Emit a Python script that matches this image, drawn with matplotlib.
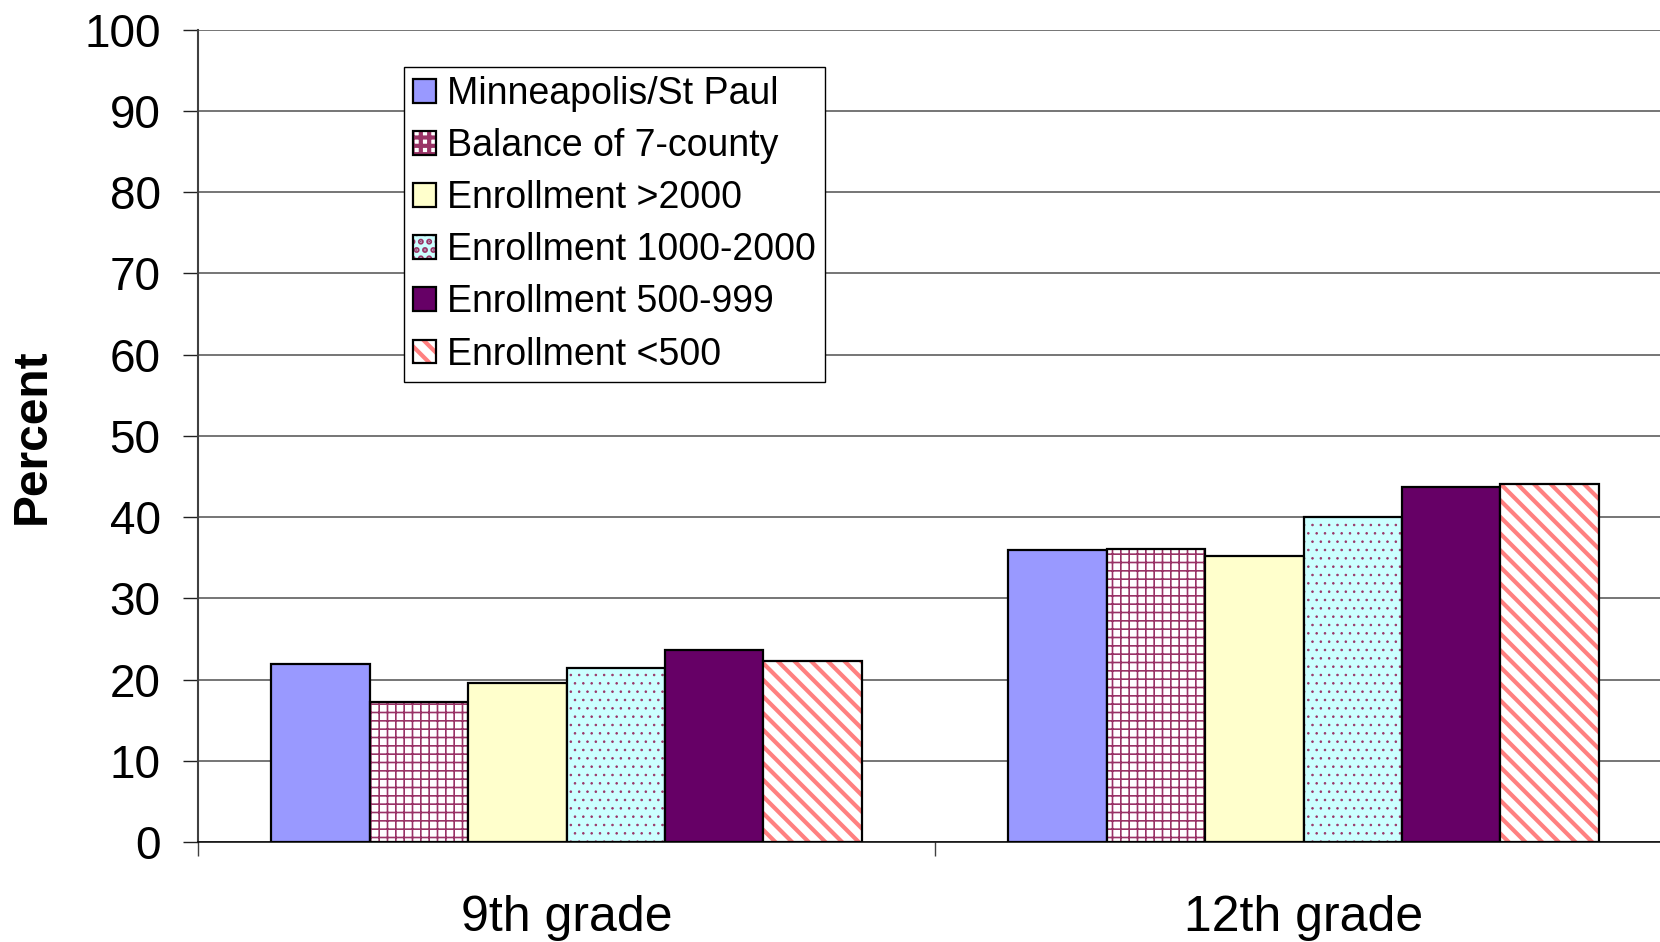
import numpy as np
import matplotlib
matplotlib.use("Agg")
import matplotlib.pyplot as plt

plt.rcParams['font.family'] = ['Liberation Sans', 'DejaVu Sans']

grades = ["9th grade", "12th grade"]
series = ["Minneapolis/St Paul", "Balance of 7-county", "Enrollment >2000",
          "Enrollment 1000-2000", "Enrollment 500-999", "Enrollment <500"]
minneapolis = [21.9, 35.9]
balance = [17.2, 36.1]
over2000 = [19.6, 35.2]
mid1000 = [21.4, 40.0]
mid500 = [23.6, 43.7]
under500 = [22.3, 44.1]
values = [minneapolis, balance, over2000, mid1000, mid500, under500]

faces = ["#9999FF", "white", "#FFFFCC", "#CCFFFF", "#660066", "white"]
hatches = [None, "++", None, "..", None, "\\\\"]
hatch_cols = ["black", "#993366", "black", "#993366", "black", "#FF8080"]
hatch_lws = [1.0, 1.2, 1.0, 0.6, 1.0, 3.0]

fig = plt.figure(figsize=(16.6, 9.42), dpi=100)
ax = fig.add_axes([198 / 1660, 1 - 842 / 942, 1474 / 1660, (842 - 29.6) / 942])

x = np.arange(len(grades))
w = 0.1336
for i, vals in enumerate(values):
    plt.rcParams['hatch.linewidth'] = hatch_lws[i]
    plt.rcParams['hatch.color'] = hatch_cols[i]
    pos = x - 3 * w + w / 2 + i * w
    bars = ax.bar(pos, vals, w, color=faces[i], edgecolor="black",
                  linewidth=1.6, hatch=hatches[i], label=series[i], zorder=3)
    for b in bars:
        b._hatch_color = matplotlib.colors.to_rgba(hatch_cols[i])

ax.set_ylim(0, 100)
ax.set_xlim(-0.5, 1.5)
ax.set_yticks(np.arange(0, 101, 10))
ax.set_xticks(x)
ax.set_xticklabels(grades, fontsize=36)
ax.set_xticks([-0.5, 0.5, 1.5], minor=True)
ax.tick_params(axis='x', which='major', length=0, pad=38)
ax.tick_params(axis='x', which='minor', length=10, width=1, color='#404040')
ax.tick_params(axis='y', labelsize=33, length=11, width=1, pad=16, color='#202020')
ax.grid(axis='y', color='#505050', linewidth=1.1, zorder=0)
ax.set_axisbelow(True)
for s in ['top', 'right']:
    ax.spines[s].set_visible(False)
ax.spines['left'].set_color('#404040')
ax.spines['left'].set_linewidth(1.5)
ax.spines['bottom'].set_color('black')
ax.spines['bottom'].set_linewidth(1.1)

ax.set_ylabel("Percent", fontsize=34.5, fontweight='bold')
ax.yaxis.set_label_coords(-0.0975, 0.5)

leg = ax.legend(loc='upper left', bbox_to_anchor=(404 / 1660, 1 - 67 / 942),
                bbox_transform=fig.transFigure, borderaxespad=0, fontsize=27,
                fancybox=False, framealpha=1, edgecolor='black',
                handlelength=0.6, handleheight=0.6, handletextpad=0.3,
                labelspacing=0.43, borderpad=0.24)
leg.get_frame().set_linewidth(1.0)

fig.savefig("out.png", dpi=100)
